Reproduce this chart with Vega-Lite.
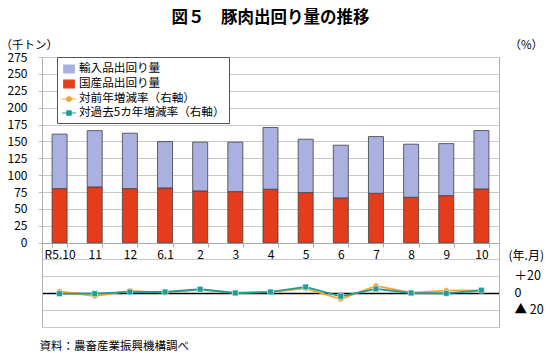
{
  "$schema": "https://vega.github.io/schema/vega-lite/v6.json",
  "width": 457,
  "height": 270,
  "autosize": {"type": "none"},
  "padding": {"left": 42, "top": 57, "right": 51, "bottom": 26},
  "background": "white",
  "config": {
    "font": "Noto Sans CJK JP",
    "view": {"stroke": null},
    "axis": {"labelColor": "#000000", "titleColor": "#000000"}
  },
  "title": {
    "text": "図５　豚肉出回り量の推移",
    "anchor": "middle",
    "fontSize": 16.5,
    "fontWeight": "bold",
    "color": "#000000",
    "offset": 13
  },
  "datasets": {
    "bars": [
      {"月": "R5.10", "区分": "国産品出回り量", "量": 80.1},
      {"月": "R5.10", "区分": "輸入品出回り量", "量": 80.7},
      {"月": "11", "区分": "国産品出回り量", "量": 82.6},
      {"月": "11", "区分": "輸入品出回り量", "量": 83.4},
      {"月": "12", "区分": "国産品出回り量", "量": 80.1},
      {"月": "12", "区分": "輸入品出回り量", "量": 82.1},
      {"月": "6.1", "区分": "国産品出回り量", "量": 81.1},
      {"月": "6.1", "区分": "輸入品出回り量", "量": 68.7},
      {"月": "2", "区分": "国産品出回り量", "量": 76.7},
      {"月": "2", "区分": "輸入品出回り量", "量": 72.2},
      {"月": "3", "区分": "国産品出回り量", "量": 75.7},
      {"月": "3", "区分": "輸入品出回り量", "量": 73.2},
      {"月": "4", "区分": "国産品出回り量", "量": 79.2},
      {"月": "4", "区分": "輸入品出回り量", "量": 91.4},
      {"月": "5", "区分": "国産品出回り量", "量": 74.2},
      {"月": "5", "区分": "輸入品出回り量", "量": 79.1},
      {"月": "6", "区分": "国産品出回り量", "量": 66.3},
      {"月": "6", "区分": "輸入品出回り量", "量": 78.1},
      {"月": "7", "区分": "国産品出回り量", "量": 73.2},
      {"月": "7", "区分": "輸入品出回り量", "量": 84.0},
      {"月": "8", "区分": "国産品出回り量", "量": 67.3},
      {"月": "8", "区分": "輸入品出回り量", "量": 78.6},
      {"月": "9", "区分": "国産品出回り量", "量": 69.7},
      {"月": "9", "区分": "輸入品出回り量", "量": 77.1},
      {"月": "10", "区分": "国産品出回り量", "量": 79.6},
      {"月": "10", "区分": "輸入品出回り量", "量": 86.5}
    ],
    "rates": [
      {"月": "R5.10", "系列": "対前年増減率（右軸）", "率": 1.8},
      {"月": "11", "系列": "対前年増減率（右軸）", "率": -3.5},
      {"月": "12", "系列": "対前年増減率（右軸）", "率": 2.5},
      {"月": "6.1", "系列": "対前年増減率（右軸）", "率": 0.5},
      {"月": "2", "系列": "対前年増減率（右軸）", "率": 4.0},
      {"月": "3", "系列": "対前年増減率（右軸）", "率": 0.2},
      {"月": "4", "系列": "対前年増減率（右軸）", "率": 1.0},
      {"月": "5", "系列": "対前年増減率（右軸）", "率": 5.5},
      {"月": "6", "系列": "対前年増減率（右軸）", "率": -7.1},
      {"月": "7", "系列": "対前年増減率（右軸）", "率": 8.3},
      {"月": "8", "系列": "対前年増減率（右軸）", "率": 0.5},
      {"月": "9", "系列": "対前年増減率（右軸）", "率": 2.8},
      {"月": "10", "系列": "対前年増減率（右軸）", "率": 3.2},
      {"月": "R5.10", "系列": "対過去5カ年増減率（右軸）", "率": -0.8},
      {"月": "11", "系列": "対過去5カ年増減率（右軸）", "率": -0.8},
      {"月": "12", "系列": "対過去5カ年増減率（右軸）", "率": 1.2},
      {"月": "6.1", "系列": "対過去5カ年増減率（右軸）", "率": 1.2},
      {"月": "2", "系列": "対過去5カ年増減率（右軸）", "率": 4.4},
      {"月": "3", "系列": "対過去5カ年増減率（右軸）", "率": 0.0},
      {"月": "4", "系列": "対過去5カ年増減率（右軸）", "率": 1.2},
      {"月": "5", "系列": "対過去5カ年増減率（右軸）", "率": 7.1},
      {"月": "6", "系列": "対過去5カ年増減率（右軸）", "率": -4.0},
      {"月": "7", "系列": "対過去5カ年増減率（右軸）", "率": 4.8},
      {"月": "8", "系列": "対過去5カ年増減率（右軸）", "率": 0.0},
      {"月": "9", "系列": "対過去5カ年増減率（右軸）", "率": -0.4},
      {"月": "10", "系列": "対過去5カ年増減率（右軸）", "率": 3.2}
    ]
  },
  "layer": [
    {
      "data": {"name": "bars"},
      "mark": {"type": "bar", "stroke": "#404040", "strokeWidth": 0.8},
      "encoding": {
        "x": {
          "field": "月",
          "type": "nominal",
          "sort": null,
          "scale": {"paddingInner": 0.573, "paddingOuter": 0.2865},
          "axis": {
            "orient": "bottom",
            "offset": -84,
            "labelAngle": 0,
            "labelFontSize": 12,
            "labelPadding": 2,
            "tickSize": 4,
            "tickBand": "extent",
            "tickColor": "#a8a8a8",
            "domainColor": "#a8a8a8",
            "grid": false,
            "title": "(年.月)",
            "titleX": 466,
            "titleY": 12,
            "titleAlign": "left",
            "titleBaseline": "middle",
            "titleFontSize": 12,
            "titleFontWeight": "normal"
          }
        },
        "y": {
          "field": "量",
          "type": "quantitative",
          "stack": "zero",
          "scale": {"domain": [-124.8, 275], "nice": false, "zero": false},
          "axis": {
            "values": [0, 25, 50, 75, 100, 125, 150, 175, 200, 225, 250, 275],
            "grid": true,
            "gridColor": "#c8c8c8",
            "tickSize": 4,
            "tickColor": "#c0c0c0",
            "domainColor": "#b0b0b0",
            "labelFontSize": 12,
            "labelPadding": 11,
            "title": "（千トン）",
            "titleAngle": 0,
            "titleX": -42,
            "titleY": -12,
            "titleAlign": "left",
            "titleBaseline": "middle",
            "titleFontSize": 11.5,
            "titleFontWeight": "normal"
          }
        },
        "color": {
          "field": "区分",
          "type": "nominal",
          "scale": {
            "domain": ["輸入品出回り量", "国産品出回り量", "対前年増減率（右軸）", "対過去5カ年増減率（右軸）"],
            "range": ["#aab0e0", "#e53d1b", "#f3a531", "#1d9c98"]
          },
          "legend": {
            "orient": "none",
            "legendX": 15,
            "legendY": 0,
            "title": null,
            "fillColor": "white",
            "strokeColor": "#555555",
            "padding": 4,
            "rowPadding": 0,
            "labelFontSize": 11.6,
            "labelColor": "#000000",
            "labelOffset": 2,
            "labelLimit": 300,
            "symbolSize": 196,
            "encoding": {
              "symbols": {
                "shape": {"value": {"expr": "datum.value === '対前年増減率（右軸）' ? 'M-1,0H-0.3M0.3,0H1M-0.32,0A0.32,0.32 0 1,1 0.32,0A0.32,0.32 0 1,1 -0.32,0Z' : datum.value === '対過去5カ年増減率（右軸）' ? 'M-1,0H-0.3M0.3,0H1M-0.3,-0.3H0.3V0.3H-0.3Z' : 'M-0.75,-0.55H0.75V0.55H-0.75Z'"}},
                "size": {"value": 196},
                "fill": {"value": {"expr": "datum.value === '輸入品出回り量' ? '#aab0e0' : datum.value === '国産品出回り量' ? '#e53d1b' : datum.value === '対前年増減率（右軸）' ? '#f3a531' : '#1d9c98'"}},
                "stroke": {"value": {"expr": "datum.value === '輸入品出回り量' || datum.value === '国産品出回り量' ? '#404040' : datum.value === '対前年増減率（右軸）' ? '#f3a531' : '#1d9c98'"}},
                "strokeWidth": {"value": 1.2},
                "opacity": {"value": 1},
                "fillOpacity": {"value": 1}
              }
            }
          }
        },
        "order": {"field": "区分", "sort": "ascending"}
      }
    },
    {
      "data": {"name": "rates"},
      "encoding": {
        "x": {
          "field": "月",
          "type": "nominal",
          "sort": null,
          "axis": {
            "orient": "bottom",
            "offset": 0,
            "labels": false,
            "ticks": false,
            "domain": false,
            "grid": false,
            "title": "資料：農畜産業振興機構調べ",
            "titleX": -3,
            "titleY": 19,
            "titleAlign": "left",
            "titleBaseline": "middle",
            "titleFontSize": 11.5,
            "titleFontWeight": "normal"
          }
        },
        "y": {
          "field": "率",
          "type": "quantitative",
          "scale": {"domain": [-40, 277.6], "nice": false, "zero": false},
          "axis": {
            "orient": "right",
            "values": [-40, -20, 0, 20, 40],
            "labelExpr": "datum.value === 20 ? '＋20' : datum.value === 0 ? '0' : datum.value === -20 ? '▲ 20' : ''",
            "grid": true,
            "gridColor": {"condition": {"test": "datum.value === 0", "value": "#000000"}, "value": "#c8c8c8"},
            "gridWidth": {"condition": {"test": "datum.value === 0", "value": 1.6}, "value": 1},
            "ticks": false,
            "domainColor": "#b0b0b0",
            "labelPadding": 15,
            "labelFontSize": 12.5,
            "title": "（%）",
            "titleAngle": 0,
            "titleX": 10,
            "titleY": -12,
            "titleAlign": "left",
            "titleBaseline": "middle",
            "titleFontSize": 11.5,
            "titleFontWeight": "normal"
          }
        },
        "color": {"field": "系列", "type": "nominal"}
      },
      "layer": [
        {"mark": {"type": "line", "strokeWidth": 1.8}},
        {
          "mark": {"type": "point", "filled": true, "opacity": 1, "size": 32, "stroke": "#d8eeee", "strokeWidth": 0.6},
          "encoding": {
            "shape": {
              "field": "系列",
              "type": "nominal",
              "scale": {"domain": ["対前年増減率（右軸）", "対過去5カ年増減率（右軸）"], "range": ["circle", "square"]},
              "legend": null
            }
          }
        }
      ]
    }
  ],
  "resolve": {"scale": {"y": "independent"}, "axis": {"x": "independent"}}
}
